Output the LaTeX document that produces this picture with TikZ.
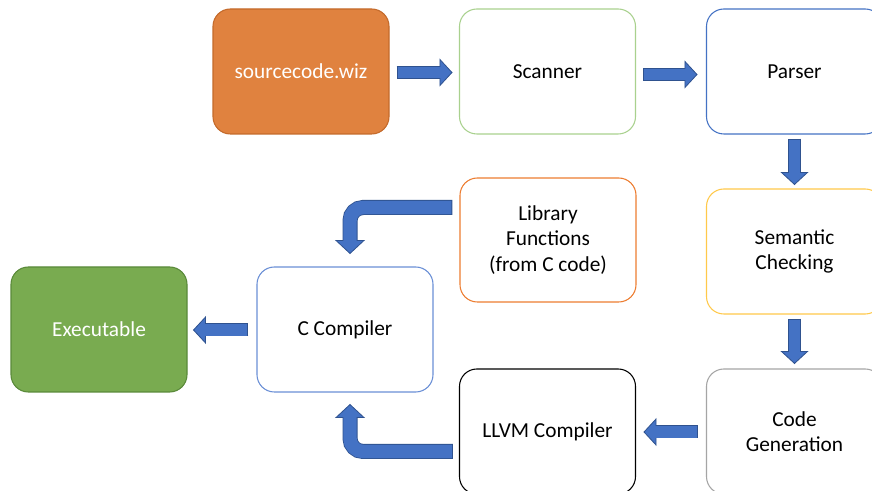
\documentclass[tikz,border=0pt]{standalone}
\usepackage{fontspec}
\setmainfont{Carlito}
\usetikzlibrary{calc}
\definecolor{srcfill}{HTML}{E0823F}
\definecolor{srcline}{HTML}{C46A2B}
\definecolor{exefill}{HTML}{79AB50}
\definecolor{exeline}{HTML}{5A8A3A}
\definecolor{scanline}{HTML}{A9D18E}
\definecolor{blueline}{HTML}{4472C4}
\definecolor{ccline}{HTML}{6A8FD6}
\definecolor{semline}{HTML}{FFC94A}
\definecolor{codeline}{HTML}{A5A5A5}
\definecolor{libline}{HTML}{ED7D31}
\definecolor{arrowfill}{HTML}{4472C4}
\definecolor{arrowline}{HTML}{2F528F}
\tikzset{
  box/.style={rectangle, rounded corners=13pt, minimum width=132pt,
    minimum height=93.75pt, inner sep=2pt, line width=0.8pt, align=center,
    font=\fontsize{16}{19.2}\selectfont, text=black, fill=white},
  arrowhd/.style={fill=arrowfill, draw=arrowline, line width=0.6pt, line join=miter},
}
\newcommand\straightarrow[2]{%
  \coordinate (hb) at ($(#2)!9pt!(#1)$);
  \draw[line width=9.75pt, arrowline, shorten <=-0.6pt] (#1) -- (hb);
  \path[arrowhd] ($(hb)!9.75pt!90:(#2)$) -- (#2) -- ($(hb)!9.75pt!-90:(#2)$) -- cycle;
  \draw[line width=8.55pt, arrowfill, shorten >=-0.8pt] (#1) -- (hb);
}
\newcommand\bentarrow[3]{%
  \coordinate (hb) at ($(#3)!9.75pt!(#2)$);
  \draw[line width=11.25pt, arrowline, rounded corners=9.75pt, shorten <=-0.6pt] (#1) -- (#2) -- (hb);
  \path[arrowhd] ($(hb)!10.5pt!90:(#3)$) -- (#3) -- ($(hb)!10.5pt!-90:(#3)$) -- cycle;
  \draw[line width=10.05pt, arrowfill, rounded corners=9.75pt, shorten >=-0.8pt] (#1) -- (#2) -- (hb);
}
\begin{document}
\begin{tikzpicture}[x=0.75pt, y=-0.75pt]
\useasboundingbox (0,0) rectangle (872,491);
\clip (0,0) rectangle (872,491);
\fill[white] (0,0) rectangle (872,491);
% nodes
\node[box, fill=srcfill, draw=srcline, text=white] (src) at (301,71.5) {sourcecode.wiz};
\node[box, draw=scanline] (scan) at (547.5,71.5) {Scanner};
\node[box, draw=blueline] (parser) at (794.5,71.5) {Parser};
\node[box, draw=semline] (sem) at (794.5,251.5) {Semantic\\Checking};
\node[box, draw=codeline] (code) at (794.5,431.5) {Code\\Generation};
\node[box, draw=black] (llvm) at (547.5,431.5) {LLVM Compiler};
\node[box, draw=libline, minimum height=93pt] (lib) at (548,240) {Library\\Functions\\(from C code)};
\node[box, draw=ccline] (cc) at (345,329.5) {C Compiler};
\node[box, fill=exefill, draw=exeline, text=white] (exe) at (99,329.5) {Executable};
% connector end points
\coordinate (a1t) at ($(src.east)+(8,1)$);
\coordinate (a1h) at ($(scan.west)+(-7,1)$);
\coordinate (a2t) at ($(scan.east)+(8,3)$);
\coordinate (a2h) at ($(parser.west)+(-9,3)$);
\coordinate (a3t) at ($(parser.south)+(0,5)$);
\coordinate (a3h) at ($(sem.north)+(0,-4)$);
\coordinate (a4t) at ($(sem.south)+(0,5)$);
\coordinate (a4h) at ($(code.north)+(0,-5)$);
\coordinate (a5t) at ($(code.west)+(-9,0.5)$);
\coordinate (a5h) at ($(llvm.east)+(8,0.5)$);
\coordinate (a6t) at ($(cc.west)+(-9,0.5)$);
\coordinate (a6h) at ($(exe.east)+(6,0.5)$);
\coordinate (b1t) at ($(lib.west)+(-8,-32.5)$);
\coordinate (b1h) at ($(cc.north)+(5,-13)$);
\coordinate (b1c) at (b1h |- b1t);
\coordinate (b2t) at ($(llvm.west)+(-7,20)$);
\coordinate (b2h) at ($(cc.south)+(5,12)$);
\coordinate (b2c) at (b2h |- b2t);
% connectors
\straightarrow{a1t}{a1h}
\straightarrow{a2t}{a2h}
\straightarrow{a3t}{a3h}
\straightarrow{a4t}{a4h}
\straightarrow{a5t}{a5h}
\straightarrow{a6t}{a6h}
\bentarrow{b1t}{b1c}{b1h}
\bentarrow{b2t}{b2c}{b2h}
\end{tikzpicture}
\end{document}
